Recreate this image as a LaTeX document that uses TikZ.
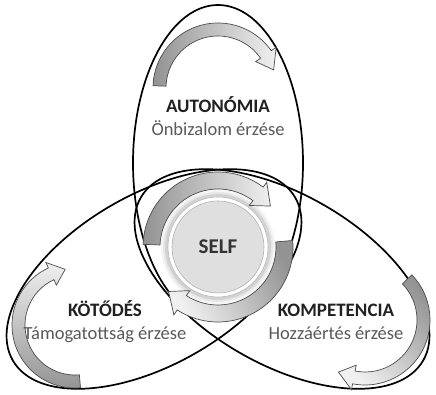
\documentclass[tikz,border=0pt]{standalone}
\usepackage{fontspec}
\setmainfont{Carlito}
\usetikzlibrary{calc}

% thick curved arrow: centre, tail angle, tip angle, inner r, outer r, head (deg), shading angle
\newcommand{\ringarrow}[7]{%
  \path[arrowfill=#7]
    ($(#1)+(#2:#5)$) arc[start angle=#2, end angle={#3+#6}, radius=#5]
    -- ($(#1)+({#3+#6}:{#5+6})$)
    -- ($(#1)+(#3:{(#4+#5)/2})$)
    -- ($(#1)+({#3+#6}:{#4-6})$)
    -- ($(#1)+({#3+#6}:#4)$)
    arc[start angle={#3+#6}, end angle=#2, radius=#4]
    -- cycle;}

\begin{document}
\begin{tikzpicture}[
  x=1pt, y=1pt,
  ellipseline/.style={draw=black, line width=1.7pt},
  arrowfill/.style={draw=black!70, line width=0.7pt, top color=gray!85, bottom color=gray!12, shading angle=#1},
  labelblock/.style={align=center, font=\fontsize{18.5}{23}\selectfont, text=black!65},
  selfdisc/.style={circle, draw=gray!60, fill=gray!25, line width=0.6pt, minimum size=92pt,
    font=\fontsize{21}{24}\selectfont\bfseries, text=black!80}
]
\useasboundingbox (0,0) rectangle (436,395);

\coordinate (topc) at (218,232);
\coordinate (leftc) at (154,116);
\coordinate (rightc) at (282,116);
\coordinate (selfc) at (218,148);

% the three needs
\draw[ellipseline] (topc) ellipse[x radius=85, y radius=158];
\draw[ellipseline, rotate around={30:(leftc)}] (leftc) ellipse[x radius=163, y radius=85];
\draw[ellipseline, rotate around={-30:(rightc)}] (rightc) ellipse[x radius=163, y radius=85];

% arrows inside the ellipses
\coordinate (toparc) at (218,307);
\coordinate (leftarc) at (75,70);
\coordinate (rightarc) at (365,75);
\ringarrow{toparc}{178}{18}{52}{65}{17}{90}
\ringarrow{leftarc}{275}{100}{50}{63}{15}{180}
\ringarrow{rightarc}{44}{-117}{52}{65}{16}{-45}

% self in the middle
\foreach \r/\o in {57/0.04, 55/0.06, 53/0.09}
  \fill[black, opacity=\o] (selfc) circle[radius=\r];
\draw[gray!55, line width=0.6pt, fill=white] (selfc) circle[radius=50];
\node[selfdisc] (self) at (selfc) {SELF};

\ringarrow{selfc}{178}{38}{58}{75}{15}{90}
\ringarrow{selfc}{5}{-138}{58}{75}{15}{-60}

% labels
\node[labelblock] (autonomia) at (218,279) {\textcolor{black!87}{\fontsize{19}{23}\selectfont\bfseries AUTONÓMIA}\\Önbizalom érzése};
\node[labelblock] (kotodes) at (105,73) {\textcolor{black!87}{\fontsize{19}{23}\selectfont\bfseries KÖTŐDÉS}\\Támogatottság érzése};
\node[labelblock] (kompetencia) at (336,73) {\textcolor{black!87}{\fontsize{19}{23}\selectfont\bfseries KOMPETENCIA}\\Hozzáértés érzése};

\end{tikzpicture}
\end{document}
